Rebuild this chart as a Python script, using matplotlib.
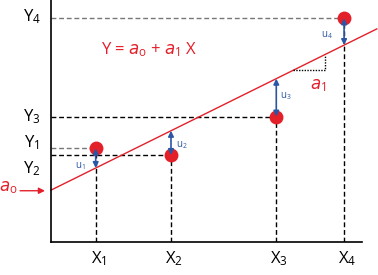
import matplotlib.pyplot as plt

plt.rcParams['font.family'] = ['Open Sans', 'DejaVu Sans']
plt.rcParams['mathtext.default'] = 'regular'

# observations (X_i, Y_i) and fitted line Y = a0 + a1 X
x_pts = [1.49, 4.00, 7.51, 9.77]
y_pts = [3.11, 2.89, 4.17, 7.45]
x_labels = ['X$_1$', 'X$_2$', 'X$_3$', 'X$_4$']
y_labels = ['Y$_1$', 'Y$_2$', 'Y$_3$', 'Y$_4$']
y_label_pos = [3.30, 2.45, 4.16, 7.49]
u_labels = ['u$_1$', 'u$_2$', 'u$_3$', 'u$_4$']
u_label_pos = [(0.97, 2.52), (4.37, 3.22), (7.83, 4.86), (9.20, 6.89)]
a0 = 1.72
a1 = 0.495

red = '#e3202a'
blue = '#2b55a5'

fig = plt.figure(figsize=(3.78, 2.75), dpi=100)
ax = fig.add_axes([0.1349, 0.121, 0.823, 0.879])
ax.set_xlim(0, 10.37)
ax.set_ylim(0, 8.06)
for s in ['top', 'right']:
    ax.spines[s].set_visible(False)
for s in ['left', 'bottom']:
    ax.spines[s].set_linewidth(1.2)
ax.set_xticks([])
ax.set_yticks([])

# guide lines
h_colors = ['#777777', 'black', 'black', '#777777']
for i in range(4):
    ax.plot([0, x_pts[i]], [y_pts[i], y_pts[i]], color=h_colors[i], lw=1,
            dashes=(3.5, 2))
    ax.plot([x_pts[i], x_pts[i]], [0, y_pts[i]], color='black', lw=1,
            dashes=(3.5, 2))

# regression line
xl = [0, 10.86]
ax.plot(xl, [a0 + a1 * v for v in xl], color=red, lw=1, clip_on=False)

# slope triangle
ax.plot([8.08, 9.13, 9.13], [a0 + a1 * 8.08, a0 + a1 * 8.08, a0 + a1 * 9.13],
        color='black', lw=1, dashes=(1, 1))

# data points
ax.plot(x_pts, y_pts, 'o', color=red, ms=10, mec='none', zorder=3)

# residual arrows
for i in range(4):
    yf = a0 + a1 * x_pts[i]
    ax.annotate('', xy=(x_pts[i], yf), xytext=(x_pts[i], y_pts[i]),
                arrowprops=dict(arrowstyle='<|-|>', color=blue, lw=1.2,
                                mutation_scale=8, shrinkA=0, shrinkB=0),
                zorder=4)
    ax.text(u_label_pos[i][0], u_label_pos[i][1], u_labels[i], color=blue,
            fontsize=7, ha='center', va='center')

# axis labels
for i in range(4):
    ax.text(x_pts[i] + 0.1, -0.56, x_labels[i], fontsize=12, ha='center',
            va='center', clip_on=False)
    ax.text(-0.63, y_label_pos[i], y_labels[i], fontsize=12, ha='center',
            va='center', clip_on=False)

# equation and coefficient labels
ax.text(3.27, 6.42, 'Y = $\\mathit{a}_o$ + $\\mathit{a}_1$ X', color=red,
        fontsize=12, ha='center', va='center')
ax.text(8.9, 5.22, '$\\mathit{a}_1$', color=red, fontsize=12, ha='center',
        va='center')
ax.text(-1.43, 1.79, '$\\mathit{a}_o$', color=red, fontsize=12, ha='center',
        va='center', clip_on=False)
ax.annotate('', xy=(-0.2, 1.70), xytext=(-1.03, 1.70),
            arrowprops=dict(arrowstyle='-|>', color=red, lw=1,
                            mutation_scale=9, shrinkA=0, shrinkB=0),
            annotation_clip=False)

fig.savefig('out.png', dpi=100)
